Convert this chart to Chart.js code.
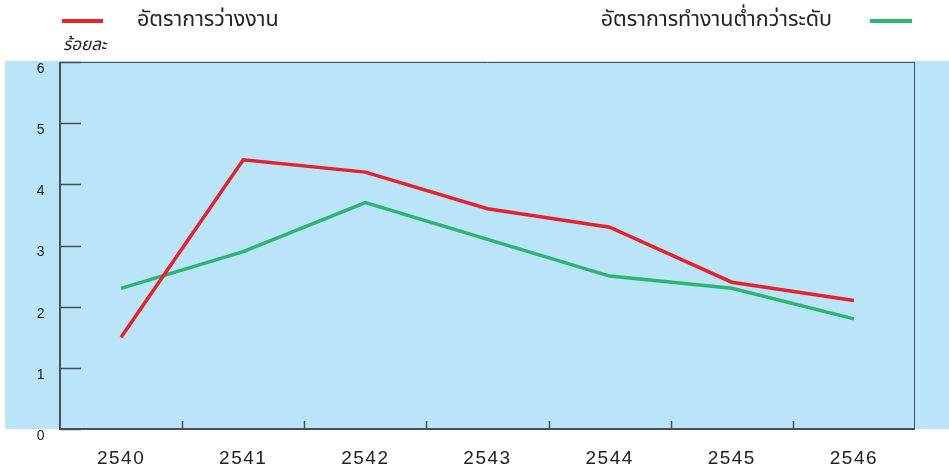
<!DOCTYPE html>
<html>
<head>
<meta charset="utf-8">
<script src="https://cdn.jsdelivr.net/npm/chart.js@4.4.0/dist/chart.umd.min.js"></script>
<style>
  html, body { margin: 0; padding: 0; background: #fff; }
  #wrap { width: 949px; height: 468px; position: relative; }
</style>
</head>
<body>
<div id="wrap"><canvas id="c" width="949" height="468"></canvas></div>
<script>
// --- DATA ---
const years = ['2540','2541','2542','2543','2544','2545','2546'];
const unemployment = [1.5, 4.4, 4.2, 3.6, 3.3, 2.4, 2.1];
const underemployment = [2.3, 2.9, 3.7, 3.1, 2.5, 2.3, 1.8];
const yTicks = [0, 1, 2, 3, 4, 5, 6];
const unitLabel = 'ร้อยละ';

const RED = '#E8212B';
const GREEN = '#2BB56F';
const BAND = '#BAE4F7';
const AXIS = '#4A4F55';
const THAI = "'Noto Sans Thai', 'Loma', 'Garuda', 'Noto Sans', sans-serif";

// background band, inward ticks, frame, legend
const decor = {
  id: 'decor',
  beforeDraw(chart) {
    const { ctx, scales: { y } } = chart;
    ctx.save();
    ctx.fillStyle = BAND;
    ctx.fillRect(5, y.getPixelForValue(6) - 1, chart.width - 5, y.getPixelForValue(0) - y.getPixelForValue(6) + 1);
    ctx.restore();
    ctx.letterSpacing = '1.5px'; // wide digits on the axis labels
  },
  afterDatasetsDraw(chart) {
    const { ctx, chartArea: a, scales: { x, y } } = chart;
    ctx.save();
    ctx.letterSpacing = '0px';
    // frame top/right
    ctx.strokeStyle = AXIS;
    ctx.lineWidth = 1;
    ctx.beginPath();
    ctx.moveTo(a.left, a.top + 0.5); ctx.lineTo(a.right, a.top + 0.5);
    ctx.moveTo(a.right - 0.5, a.top); ctx.lineTo(a.right - 0.5, a.bottom);
    ctx.stroke();
    // left + bottom axes
    ctx.lineWidth = 2;
    ctx.beginPath();
    ctx.moveTo(a.left, a.top); ctx.lineTo(a.left, a.bottom);
    ctx.lineTo(a.right, a.bottom);
    ctx.stroke();
    // y ticks inward
    ctx.lineWidth = 1.5;
    ctx.beginPath();
    yTicks.forEach(v => {
      const py = Math.round(y.getPixelForValue(v)) + 0.5;
      ctx.moveTo(a.left, py); ctx.lineTo(a.left + 21, py);
    });
    ctx.stroke();
    // x ticks at category boundaries, inward
    ctx.beginPath();
    for (let i = 1; i < years.length; i++) {
      const px = Math.round((x.getPixelForValue(i - 1) + x.getPixelForValue(i)) / 2) + 0.5;
      ctx.moveTo(px, a.bottom); ctx.lineTo(px, a.bottom - 8);
    }
    ctx.stroke();

    // legend
    const ds = chart.data.datasets;
    ctx.lineWidth = 4;
    ctx.strokeStyle = ds[0].borderColor;
    ctx.beginPath(); ctx.moveTo(62, 21); ctx.lineTo(103, 21); ctx.stroke();
    ctx.strokeStyle = ds[1].borderColor;
    ctx.beginPath(); ctx.moveTo(870, 21); ctx.lineTo(912, 21); ctx.stroke();
    ctx.fillStyle = '#222';
    ctx.font = '21.5px ' + THAI;
    ctx.textBaseline = 'middle';
    ctx.textAlign = 'left';
    ctx.fillText(ds[0].label, 137, 22);
    ctx.textAlign = 'right';
    ctx.fillText(ds[1].label, 832, 22);
    // unit
    ctx.textAlign = 'left';
    ctx.font = 'italic 17px ' + THAI;
    ctx.fillText(unitLabel, 63, 47);
    ctx.restore();
  }
};

new Chart(document.getElementById('c'), {
  type: 'line',
  data: {
    labels: years,
    datasets: [
      { label: 'อัตราการว่างงาน', data: unemployment, borderColor: RED, borderWidth: 3.5, pointRadius: 0, tension: 0 },
      { label: 'อัตราการทำงานต่ำกว่าระดับ', data: underemployment, borderColor: GREEN, borderWidth: 3.5, pointRadius: 0, tension: 0 }
    ]
  },
  options: {
    responsive: false,
    animation: false,
    layout: { padding: { top: 62, right: 34, bottom: 0, left: 0 } },
    plugins: { legend: { display: false }, tooltip: { enabled: false } },
    scales: {
      x: {
        offset: true,
        grid: { display: false, drawTicks: false },
        border: { display: false },
        ticks: { color: '#222', font: { family: "'Liberation Sans', Arial, sans-serif", size: 19 }, padding: 18 },
        afterFit: s => { s.height = 39; }
      },
      y: {
        min: 0, max: 6,
        afterBuildTicks: s => { s.ticks = yTicks.map(v => ({ value: v })); },
        grid: { display: false, drawTicks: false },
        border: { display: false },
        ticks: { color: '#222', font: { family: "'Liberation Sans', Arial, sans-serif", size: 14 }, padding: 14, labelOffset: 7 },
        afterFit: s => { s.width = 60; }
      }
    }
  },
  plugins: [decor]
});
</script>
</body>
</html>
